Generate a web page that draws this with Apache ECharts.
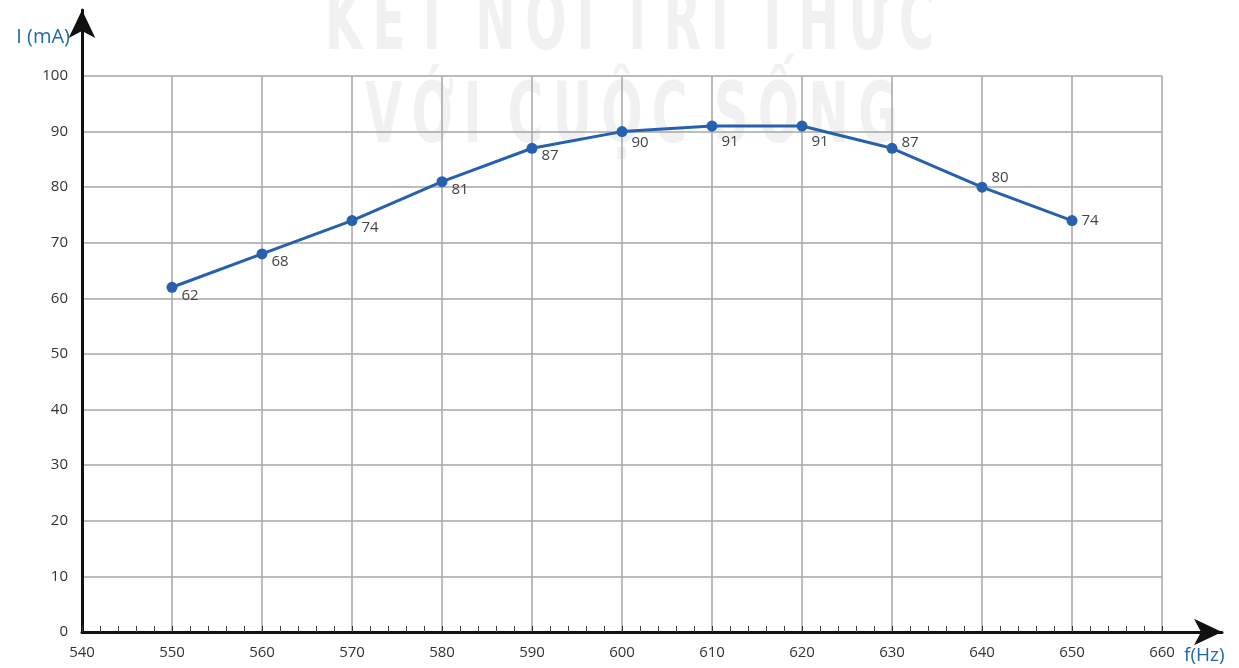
<!DOCTYPE html>
<html>
<head>
<meta charset="utf-8">
<script src="https://cdn.jsdelivr.net/npm/echarts@6/dist/echarts.min.js"></script>
<style>
  html, body { margin: 0; padding: 0; background: #fff; }
  #chart { width: 1239px; height: 668px; }
</style>
</head>
<body>
<div id="chart"></div>
<script>
// f (Hz) vs I (mA)
const freqs = [550, 560, 570, 580, 590, 600, 610, 620, 630, 640, 650]
const currents = [62, 68, 74, 81, 87, 90, 91, 91, 87, 80, 74]
const xTicks = [540, 550, 560, 570, 580, 590, 600, 610, 620, 630, 640, 650, 660]
const yTicks = [0, 10, 20, 30, 40, 50, 60, 70, 80, 90, 100]

// vertical nudge for each point label
const labelDy = [8, 8, 7, 8, 7, 11, 16, 16, -6, -9, 0]

const blue = '#2660ae'
const font = 'Open Sans'

// faint background watermark, letters spaced with thin spaces
const spaced = (s) => s.split(' ').map((w) => w.split('').join('\u2009')).join(' \u2009')

const chart = echarts.init(document.getElementById('chart'))

const seriesData = freqs.map((f, i) => ({
  value: [f, currents[i]],
  label: { offset: [0, labelDy[i]] },
}))

const wmStyle = {
  font: 'bold 84px "DejaVu Sans"',
  fill: '#f1f1f1',
  textAlign: 'left',
  textVerticalAlign: 'top',
}

chart.setOption({
  animation: false,
  textStyle: { fontFamily: font },
  graphic: [
    {
      type: 'text', x: 325, y: -15, scaleX: 0.578, z: -10, silent: true,
      style: Object.assign({ text: spaced('KẾT NỐI TRI THỨC') }, wmStyle),
    },
    {
      type: 'text', x: 365, y: 78, scaleX: 0.573, z: -10, silent: true,
      style: Object.assign({ text: spaced('VỚI CUỘC SỐNG') }, wmStyle),
    },
  ],
  grid: [
    { left: 82, right: 77, top: 76, bottom: 36 },
    { left: 82, right: 17, top: 10, bottom: 36 },
  ],
  xAxis: [
    {
      type: 'value', gridIndex: 0,
      min: xTicks[0], max: xTicks[xTicks.length - 1], interval: 10,
      name: 'f(Hz)', nameLocation: 'end', nameGap: 22,
      nameTextStyle: { color: '#1f6aa8', fontSize: 19, verticalAlign: 'top', padding: [14, 0, 0, 0] },
      axisLine: { show: false },
      axisTick: { show: true, inside: true, length: 6, lineStyle: { color: '#333' } },
      minorTick: { show: true, splitNumber: 5, length: 6, lineStyle: { color: '#444', width: 1 } },
      splitLine: { show: true, lineStyle: { color: '#a6a6a6', width: 1.5 } },
      axisLabel: { color: '#333', fontSize: 15, margin: 13 },
    },
    {
      type: 'value', gridIndex: 1, min: 0, max: 1,
      axisLine: {
        show: true, symbol: ['none', 'arrow'], symbolSize: [20, 28],
        lineStyle: { color: '#111', width: 3 },
      },
      axisTick: { show: false }, axisLabel: { show: false }, splitLine: { show: false },
    },
  ],
  yAxis: [
    {
      type: 'value', gridIndex: 0,
      min: yTicks[0], max: yTicks[yTicks.length - 1], interval: 10,
      name: 'I (mA)', nameLocation: 'end', nameGap: 29,
      nameTextStyle: { color: '#1f6aa8', fontSize: 20, align: 'right', padding: [0, 12, 0, 0] },
      axisLine: { show: false },
      axisTick: { show: false },
      splitLine: { show: true, lineStyle: { color: '#a6a6a6', width: 1.5 } },
      axisLabel: { color: '#333', fontSize: 15, margin: 14 },
    },
    {
      type: 'value', gridIndex: 1, min: 0, max: 1,
      axisLine: {
        show: true, symbol: ['none', 'arrow'], symbolSize: [20, 28],
        lineStyle: { color: '#111', width: 3 },
      },
      axisTick: { show: false }, axisLabel: { show: false }, splitLine: { show: false },
    },
  ],
  series: [
    {
      type: 'line',
      xAxisIndex: 0, yAxisIndex: 0,
      data: seriesData,
      symbol: 'circle',
      symbolSize: 11,
      lineStyle: { color: blue, width: 3 },
      itemStyle: { color: blue },
      label: {
        show: true, position: 'right', distance: 4,
        color: '#444', fontSize: 15,
        formatter: (p) => p.value[1],
      },
      z: 5,
    },
  ],
})
</script>
</body>
</html>
